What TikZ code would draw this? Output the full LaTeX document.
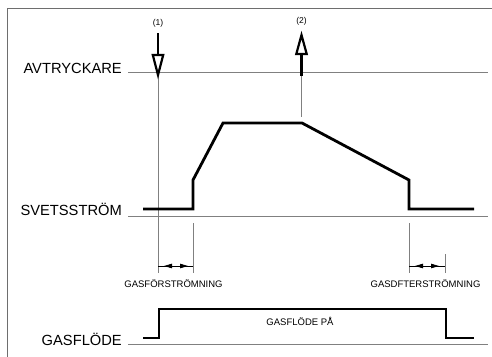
\documentclass[tikz,border=0pt]{standalone}
\usepackage{fontspec}
\setmainfont{Liberation Sans}
\usetikzlibrary{arrows.meta}
\definecolor{thin}{HTML}{808080}
\definecolor{framec}{HTML}{6E6E6E}
\tikzset{
  biglabel/.style={inner sep=0pt, anchor=base east, font=\fontsize{14.7}{16}\selectfont},
  smalllabel/.style={inner sep=0pt, anchor=base, font=\fontsize{9.5}{11}\selectfont},
  numlabel/.style={inner sep=0pt, font=\fontsize{8.5}{10}\selectfont},
  refline/.style={draw=thin, line width=0.8pt},
  signal/.style={draw=black, line width=2.8pt, line join=miter},
  trigarrow/.style={draw=black, line width=2.2pt, fill=white, line join=miter},
  dimline/.style={draw=black, line width=0.8pt},
  dimtip/.style={-{Triangle[length=8pt,width=4.5pt]}, draw=black, line width=0.8pt},
}
\begin{document}
\begin{tikzpicture}[x=1pt,y=-1pt]
\useasboundingbox (0,0) rectangle (492,356);
% frame
\draw[draw=framec, line width=1pt] (7,360) -- (7,8) -- (496,8);
% labels
\node[biglabel] (avt) at (122,73) {AVTRYCKARE};
\node[biglabel] (svs) at (122,215.5) {SVETSSTRÖM};
\node[biglabel] (gas) at (122,345) {GASFLÖDE};
% reference lines
\coordinate (a0) at (128,72);  \coordinate (a1) at (488,72);
\coordinate (s0) at (128,216); \coordinate (s1) at (488,216);
\coordinate (g0) at (128,344); \coordinate (g1) at (488,344);
\draw[refline] (a0) -- (a1);
\draw[refline] (s0) -- (s1);
\draw[refline] (g0) -- (g1);
% vertical thin lines
\coordinate (v1t) at (158,76);  \coordinate (v1b) at (158,273);
\coordinate (v2t) at (301.5,76); \coordinate (v2b) at (301.5,117);
\coordinate (e1t) at (193,223); \coordinate (e1b) at (193,273);
\coordinate (e2t) at (409,223); \coordinate (e2b) at (409,273);
\coordinate (e3t) at (445,254); \coordinate (e3b) at (445,273);
\draw[refline] (v1t) -- (v1b);
\draw[refline] (v2t) -- (v2b);
\draw[refline] (e1t) -- (e1b);
\draw[refline] (e2t) -- (e2b);
\draw[refline] (e3t) -- (e3b);
% trigger arrow (1)
\node[numlabel] (n1) at (158,23) {(1)};
\coordinate (p1s) at (158,33); \coordinate (p1b) at (158,55);
\draw[black, line width=2.4pt] (p1s) -- (p1b);
\draw[trigarrow] (152.8,55) -- (163.2,55) -- (158,75) -- cycle;
% trigger arrow (2)
\node[numlabel] (n2) at (301.5,21) {(2)};
\coordinate (p2s) at (301.5,76); \coordinate (p2b) at (301.5,54);
\draw[black, line width=2.4pt] (p2s) -- (p2b);
\draw[trigarrow] (296.3,54) -- (306.7,54) -- (301.5,35) -- cycle;
% welding current
\draw[signal] (143,209) -- (193,209) -- (193,180) -- (223,123) -- (302,123) -- (409,180) -- (409,209) -- (474,209);
% gas flow
\draw[signal] (143,338) -- (159,338) -- (159,309) -- (446,309) -- (446,338) -- (474,338);
% dimension marks
\draw[dimline] (158,266) -- (193,266);
\draw[dimtip] (173,266) -- (164,266);
\draw[dimtip] (179,266) -- (188,266);
\draw[dimline] (409,266) -- (445,266);
\draw[dimtip] (424,266) -- (415,266);
\draw[dimtip] (430,266) -- (439,266);
\node[smalllabel] (gfs) at (173.5,287.5) {GASFÖRSTRÖMNING};
\node[smalllabel] (gds) at (425.5,287.5) {GASDFTERSTRÖMNING};
\node[smalllabel] (gfp) at (300,325.5) {GASFLÖDE PÅ};
\end{tikzpicture}
\end{document}
